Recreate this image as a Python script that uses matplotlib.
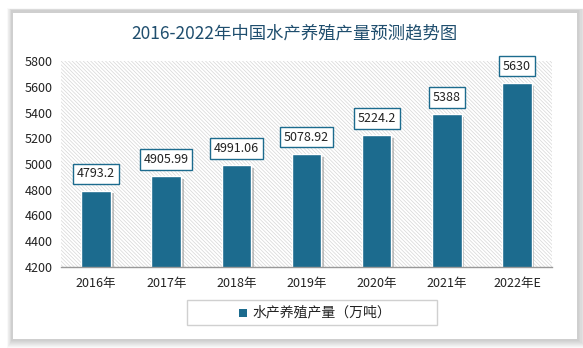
import matplotlib
matplotlib.use('Agg')
import matplotlib.pyplot as plt
import matplotlib.patheffects as pe
from matplotlib.patches import Rectangle
import numpy as np

plt.rcParams['font.family'] = ['Noto Sans CJK SC', 'DejaVu Sans']
plt.rcParams['hatch.linewidth'] = 0.5

years = ['2016年', '2017年', '2018年', '2019年', '2020年', '2021年', '2022年E']
output = [4793.2, 4905.99, 4991.06, 5078.92, 5224.2, 5388, 5630]
labels = ['4793.2', '4905.99', '4991.06', '5078.92', '5224.2', '5388', '5630']
series_name = '水产养殖产量（万吨）'
title = '2016-2022年中国水产养殖产量预测趋势图'

bar_color = '#1c6b8e'
title_color = '#1f4e6e'

W, H = 583, 348
fig = plt.figure(figsize=(W / 100, H / 100), dpi=100)
fig.patch.set_facecolor('white')

# soft grey shadow behind the white card
for i in range(8):
    g = 8 - i
    fig.patches.append(Rectangle(((12 - g * 0.6) / W, (8 - g) / H),
                                 (566 + g * 1.8) / W, (330 + g * 1.2) / H,
                                 transform=fig.transFigure, facecolor='#000000',
                                 alpha=0.025, edgecolor='none', zorder=0))
fig.patches.append(Rectangle((13 / W, 9 / H), 564 / W, 326 / H,
                             transform=fig.transFigure, facecolor='white',
                             edgecolor='none', zorder=1))

fig.text(0.505, 1 - 33 / H, title, ha='center', va='center', fontsize=12.5,
         color=title_color, zorder=3)

ax = fig.add_axes([61 / W, 81 / H, 491 / W, 206 / H], zorder=2)
ax.set_facecolor('white')
# diagonal hatched plot background
ax.add_patch(Rectangle((0, 0), 1, 1, transform=ax.transAxes, facecolor='white',
                       edgecolor='#d6d6d6', linewidth=0, hatch='\\' * 9,
                       zorder=0))

x = np.arange(len(years))
bars = ax.bar(x, output, width=0.42, color=bar_color, edgecolor='white',
              linewidth=1.0, zorder=2)
for b in bars:
    b.set_path_effects([pe.SimplePatchShadow(offset=(2, -2), shadow_rgbFace='#888888',
                                             alpha=0.5), pe.Normal()])

for xi, v, s in zip(x, output, labels):
    ax.annotate(s, (xi, v), xytext=(0, 12), textcoords='offset points',
                ha='center', va='center', fontsize=9, color='#222222', zorder=4,
                bbox=dict(boxstyle='square,pad=0.3', facecolor='white',
                          edgecolor=bar_color, linewidth=1.0))

ax.set_ylim(4200, 5800)
ax.set_yticks(np.arange(4200, 5801, 200))
ax.set_xlim(-0.5, len(years) - 0.5)
ax.set_xticks(x)
ax.set_xticklabels(years, fontsize=9, color='#222222')
ax.tick_params(axis='y', labelsize=9, colors='#222222', length=0, pad=6)
ax.tick_params(axis='x', length=0, pad=7)
for sp in ['top', 'right', 'left']:
    ax.spines[sp].set_visible(False)
ax.spines['bottom'].set_color('#999999')
ax.spines['bottom'].set_linewidth(1.0)

# legend box
fig.patches.append(Rectangle((187 / W, 1 - 325 / H), 250 / W, 25 / H,
                             transform=fig.transFigure, facecolor='white',
                             edgecolor='#d0d0d0', linewidth=1.0, zorder=3))
fig.patches.append(Rectangle((239 / W, 1 - 317 / H), 8 / W, 8 / H,
                             transform=fig.transFigure, facecolor=bar_color,
                             edgecolor='none', zorder=4))
fig.text(252 / W, 1 - 312.5 / H, series_name, ha='left', va='center',
         fontsize=10, color='#222222', zorder=4)

fig.savefig('out.png', dpi=100)
